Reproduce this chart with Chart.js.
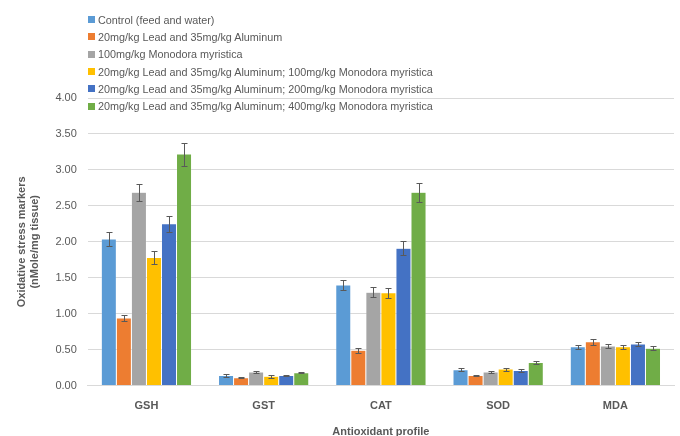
<!DOCTYPE html>
<html lang="en">
<head>
<meta charset="utf-8">
<title>Oxidative stress markers</title>
<script src="https://cdn.jsdelivr.net/npm/chart.js"></script>
<style>
    body { margin: 0; background: #fff; }
    #wrap { position: relative; width: 680px; height: 436px; }
    #legend { position: absolute; left: 88px; top: 11px; font: 10.8px "Liberation Sans"; color: #595959; }
    #legend div { height: 17.3px; display: flex; align-items: center; white-space: nowrap; }
    #legend span { width: 7px; height: 7px; margin-right: 3px; display: inline-block; }
</style>
</head>
<body>
<div id="wrap">
    <canvas id="chart" width="680" height="436"></canvas>
    <div id="legend"></div>
</div>

<script>
    const categories = ['GSH', 'GST', 'CAT', 'SOD', 'MDA'];

    const seriesNames = [
        'Control (feed and water)',
        '20mg/kg Lead and 35mg/kg Aluminum',
        '100mg/kg Monodora myristica',
        '20mg/kg Lead and 35mg/kg Aluminum; 100mg/kg Monodora myristica',
        '20mg/kg Lead and 35mg/kg Aluminum; 200mg/kg Monodora myristica',
        '20mg/kg Lead and 35mg/kg Aluminum; 400mg/kg Monodora myristica'
    ];
    const colors = ['#5B9BD5', '#ED7D31', '#A5A5A5', '#FFC000', '#4472C4', '#70AD47'];

    // means
    const control = [2.04, 0.14, 1.40, 0.22, 0.54];
    const leadAl = [0.94, 0.11, 0.49, 0.14, 0.61];
    const mm100 = [2.69, 0.19, 1.30, 0.19, 0.55];
    const leadAlMm100 = [1.78, 0.13, 1.29, 0.23, 0.54];
    const leadAlMm200 = [2.25, 0.14, 1.91, 0.21, 0.58];
    const leadAlMm400 = [3.22, 0.18, 2.69, 0.32, 0.52];

    // error bar half-widths
    const controlErr = [0.10, 0.02, 0.07, 0.02, 0.03];
    const leadAlErr = [0.04, 0.01, 0.03, 0.01, 0.04];
    const mm100Err = [0.12, 0.02, 0.07, 0.01, 0.03];
    const leadAlMm100Err = [0.09, 0.02, 0.07, 0.02, 0.03];
    const leadAlMm200Err = [0.11, 0.01, 0.10, 0.02, 0.03];
    const leadAlMm400Err = [0.16, 0.01, 0.13, 0.02, 0.03];

    const yTicks = [0, 0.5, 1, 1.5, 2, 2.5, 3, 3.5, 4];

    const values = [control, leadAl, mm100, leadAlMm100, leadAlMm200, leadAlMm400];
    const errors = [controlErr, leadAlErr, mm100Err, leadAlMm100Err, leadAlMm200Err, leadAlMm400Err];

    const errorBars = {
        id: 'errorBars',
        afterDatasetsDraw(chart) {
            const ctx = chart.ctx;
            const y = chart.scales.y;
            ctx.save();
            ctx.strokeStyle = '#595959';
            ctx.lineWidth = 1;
            chart.data.datasets.forEach((ds, i) => {
                chart.getDatasetMeta(i).data.forEach((bar, j) => {
                    const v = ds.data[j], e = errors[i][j];
                    const top = Math.round(y.getPixelForValue(v + e)) + 0.5;
                    const bot = Math.round(y.getPixelForValue(v - e)) + 0.5;
                    const x = Math.round(bar.x) + 0.5;
                    ctx.beginPath();
                    ctx.moveTo(x, top); ctx.lineTo(x, bot);
                    ctx.moveTo(x - 3, top); ctx.lineTo(x + 3, top);
                    ctx.moveTo(x - 3, bot); ctx.lineTo(x + 3, bot);
                    ctx.stroke();
                });
            });
            ctx.restore();
        }
    };

    new Chart(document.getElementById('chart'), {
        type: 'bar',
        data: {
            labels: categories,
            datasets: values.map((v, i) => ({
                label: seriesNames[i],
                data: v,
                backgroundColor: colors[i],
                borderColor: 'rgba(255,255,255,0.6)',
                borderWidth: 0.5,
                categoryPercentage: 0.77,
                barPercentage: 1.0
            }))
        },
        options: {
            responsive: false,
            animation: false,
            layout: { padding: { top: 98, right: 6, left: 11, bottom: -3 } },
            plugins: {
                legend: { display: false },
                tooltip: { enabled: false }
            },
            scales: {
                x: {
                    grid: { display: false },
                    border: { color: '#D9D9D9' },
                    ticks: { color: '#595959', font: { family: 'Liberation Sans', size: 11, weight: 'bold' }, padding: 6 },
                    title: { display: true, text: 'Antioxidant profile', color: '#595959', font: { family: 'Liberation Sans', size: 11, weight: 'bold' }, padding: { top: 7, bottom: 0 } }
                },
                y: {
                    min: 0, max: 4,
                    afterBuildTicks: axis => { axis.ticks = yTicks.map(v => ({ value: v })); },
                    grid: { color: '#D9D9D9', drawTicks: false },
                    border: { display: false },
                    ticks: { color: '#595959', font: { family: 'Liberation Sans', size: 11 }, padding: 11, callback: v => v.toFixed(2) },
                    title: { display: true, text: ['Oxidative stress markers', '(nMole/mg tissue)'], color: '#595959', font: { family: 'Liberation Sans', size: 11, weight: 'bold' }, padding: { top: 4, bottom: 3 } }
                }
            }
        },
        plugins: [errorBars]
    });

    const legend = document.getElementById('legend');
    seriesNames.forEach((name, i) => {
        const row = document.createElement('div');
        const box = document.createElement('span');
        box.style.background = colors[i];
        row.appendChild(box);
        row.appendChild(document.createTextNode(name));
        legend.appendChild(row);
    });
</script>
</body>
</html>
